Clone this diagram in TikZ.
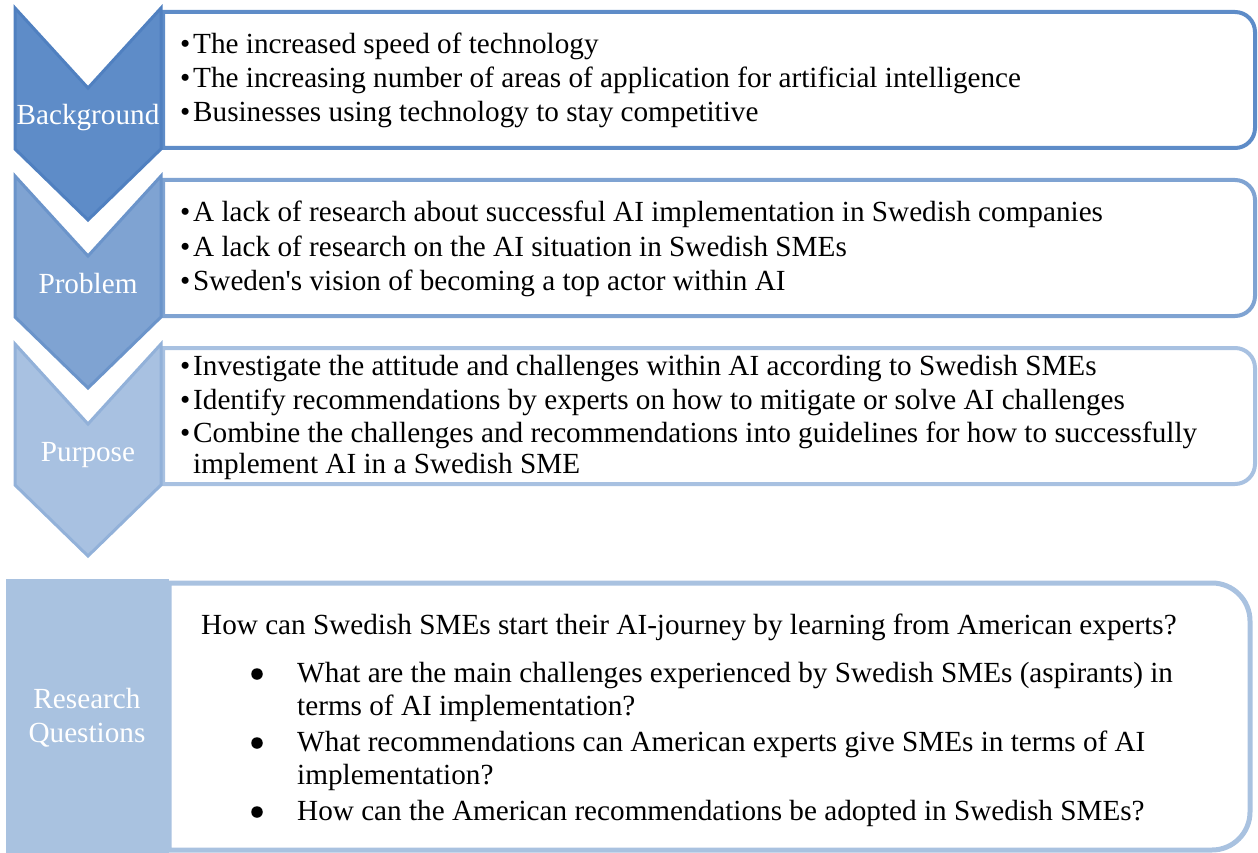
\documentclass[tikz,border=0pt]{standalone}
\usepackage{fontspec}
\setmainfont{Liberation Serif}
\definecolor{chevA}{HTML}{5E8CC8}
\definecolor{chevAline}{HTML}{5080C0}
\definecolor{chevB}{HTML}{7FA3D2}
\definecolor{chevBline}{HTML}{6B94CA}
\definecolor{chevC}{HTML}{A8C1E1}
\definecolor{chevCline}{HTML}{92B1D9}
\definecolor{rqblue}{HTML}{A9C2E0}
% bullet followed by a short hanging gap
\newcommand\bul{\makebox[13pt][l]{•}}
% straight apostrophe, set as a glyph so no quote mapping applies
\newcommand\sq{\XeTeXglyph\XeTeXcharglyph"27\relax}
% chevron pointing down, shifted by #1 (pt), fill #2, outline #3
\newcommand\chevron[3]{%
  \begin{scope}[yshift=-#1pt]
    \filldraw[fill=#2, draw=#3, line width=3pt, line join=miter]
      (15,-8) -- (88,-88) -- (161,-8) -- (161,-149) -- (88,-220) -- (15,-149) -- cycle;
  \end{scope}}
% text panel: top #1, bottom #2, colour #3, right corners rounded
\newcommand\panel[3]{%
  \draw[draw=#3, line width=4pt]
    (163,-#1) -- (1235,-#1) arc[start angle=90, end angle=0, radius=20]
    -- (1255,-#2+20) arc[start angle=0, end angle=-90, radius=20]
    -- (163,-#2) -- cycle;}
\begin{document}
\begin{tikzpicture}[x=1pt, y=1pt,
  txt/.style={anchor=base west, inner sep=0pt, font=\fontsize{29.2}{34}\selectfont, text=black},
  lbl/.style={anchor=base, inner sep=0pt, font=\fontsize{29.2}{34}\selectfont, text=white},
  dot/.style={circle, fill=black, minimum size=11.5pt, inner sep=0pt}]
\useasboundingbox (0,0) rectangle (1258,-853);

% three stacked panels with their chevrons
\panel{12}{148}{chevA}
\panel{180}{316}{chevB}
\panel{348}{484}{chevC}
\chevron{0}{chevA}{chevAline}
\chevron{168}{chevB}{chevBline}
\chevron{336}{chevC}{chevCline}

\node[lbl] (bgl) at (88,-125) {Background};
\node[lbl] (prl) at (88,-293) {Problem};
\node[lbl] (pul) at (88,-461) {Purpose};

\node[txt] (bg1) at (180,-54) {\bul The increased speed of technology};
\node[txt] (bg2) at (180,-88) {\bul The increasing number of areas of application for artificial intelligence};
\node[txt] (bg3) at (180,-122) {\bul Businesses using technology to stay competitive};

\node[txt] (pr1) at (180,-222) {\bul A lack of research about successful AI implementation in Swedish companies};
\node[txt] (pr2) at (180,-256) {\bul A lack of research on the AI situation in Swedish SMEs};
\node[txt] (pr3) at (180,-290) {\bul Sweden\sq s vision of becoming a top actor within AI};

\node[txt] (pu1) at (180,-375) {\bul Investigate the attitude and challenges within AI according to Swedish SMEs};
\node[txt] (pu2) at (180,-409) {\bul Identify recommendations by experts on how to mitigate or solve AI challenges};
\node[txt] (pu3) at (180,-442) {\bul Combine the challenges and recommendations into guidelines for how to successfully};
\node[txt] (pu3b) at (193,-473) {implement AI in a Swedish SME};

% research questions panel
\draw[draw=rqblue, line width=5pt]
  (169,-583) -- (1212,-583) arc[start angle=90, end angle=0, radius=38]
  -- (1250,-812) arc[start angle=0, end angle=-90, radius=38]
  -- (169,-850) -- cycle;
\fill[rqblue] (6,-579) rectangle (169,-853);
\node[lbl] (rq1) at (87,-708) {Research};
\node[lbl] (rq2) at (87,-742) {Questions};

\node[txt] (main) at (201,-634) {How can Swedish SMEs start their AI-journey by learning from American experts?};
\node[dot] (d1) at (257,-674) {};
\node[txt] (q1a) at (297,-682) {What are the main challenges experienced by Swedish SMEs (aspirants) in};
\node[txt] (q1b) at (297,-715) {terms of AI implementation?};
\node[dot] (d2) at (257,-743) {};
\node[txt] (q2a) at (297,-751) {What recommendations can American experts give SMEs in terms of AI};
\node[txt] (q2b) at (297,-784) {implementation?};
\node[dot] (d3) at (257,-812) {};
\node[txt] (q3) at (297,-820) {How can the American recommendations be adopted in Swedish SMEs?};
\end{tikzpicture}
\end{document}
